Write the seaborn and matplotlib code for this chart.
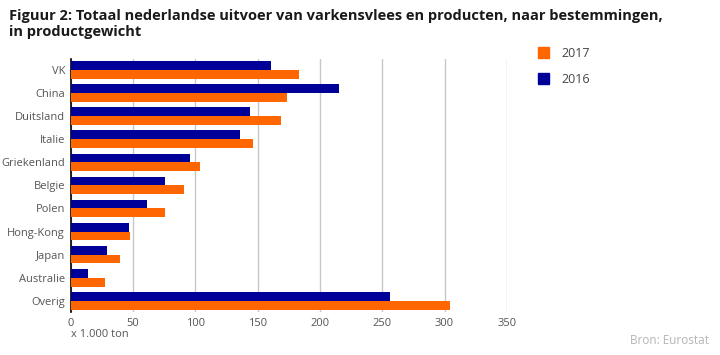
import pandas as pd
import matplotlib
matplotlib.use('Agg')
import matplotlib.pyplot as plt
import seaborn as sns
from matplotlib.patches import Patch

landen = ['VK', 'China', 'Duitsland', 'Italie', 'Griekenland', 'Belgie',
          'Polen', 'Hong-Kong', 'Japan', 'Australie', 'Overig']
uitvoer_2016 = [161, 215, 144, 136, 96, 76, 61, 47, 29, 14, 256]
uitvoer_2017 = [183, 174, 169, 146, 104, 91, 76, 48, 40, 28, 304]
jaren = ['2016', '2017']
kleuren = {'2016': '#000099', '2017': '#ff6600'}

# long format for seaborn
df = pd.DataFrame({
    'Land': landen * 2,
    'Jaar': ['2016'] * len(landen) + ['2017'] * len(landen),
    'Ton': uitvoer_2016 + uitvoer_2017,
})

sns.set_style('white')
plt.rcParams['font.family'] = ['Open Sans', 'DejaVu Sans']

fig = plt.figure(figsize=(7.2, 3.55), dpi=100)
ax = fig.add_axes([0.098, 0.121, 0.606, 0.713])

sns.barplot(data=df, x='Ton', y='Land', hue='Jaar', hue_order=jaren,
            palette=kleuren, orient='h', width=0.78, gap=0, saturation=1,
            linewidth=0, ax=ax, legend=False, zorder=3)

ax.set_xlim(0, 350)
ax.set_xticks(range(0, 351, 50))
ax.set_xlabel('')
ax.set_ylabel('')
ax.grid(axis='x', color='#c8c8c8', linewidth=1, zorder=0)
ax.set_axisbelow(True)
for s in ['top', 'right', 'bottom']:
    ax.spines[s].set_visible(False)
ax.spines['left'].set_color('black')
ax.spines['left'].set_linewidth(1.2)
ax.tick_params(axis='both', length=0, labelsize=8, labelcolor='#555555', pad=4)
ax.set_ylim(len(landen) - 0.5, -0.5)

fig.text(0.098, 0.05, 'x 1.000 ton', fontsize=8, color='#555555', ha='left')
fig.text(0.012, 0.975, 'Figuur 2: Totaal nederlandse uitvoer van varkensvlees en producten, naar bestemmingen,\nin productgewicht',
         fontsize=10.5, fontweight='bold', color='#1a1a1a', ha='left', va='top', linespacing=1.15)
fig.text(0.985, 0.03, 'Bron: Eurostat', fontsize=8.5, color='#b4b4b4', ha='right')

handles = [Patch(color=kleuren['2017'], label='2017'),
           Patch(color=kleuren['2016'], label='2016')]
fig.legend(handles=handles, loc='upper left', bbox_to_anchor=(0.731, 0.9),
           frameon=False, fontsize=9, handlelength=0.9, handleheight=0.9,
           labelspacing=1.05, handletextpad=1.0, labelcolor='#444444')

fig.savefig('out.png', dpi=100)
